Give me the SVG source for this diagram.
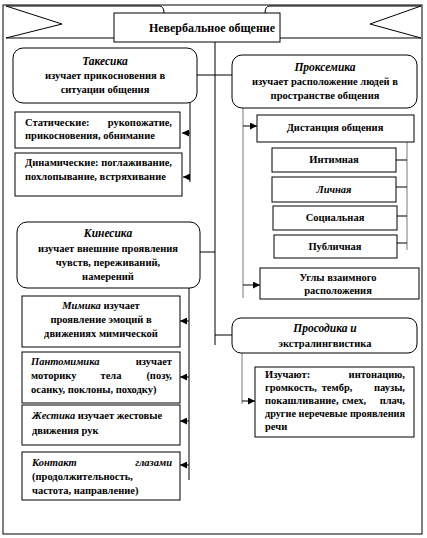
<svg xmlns="http://www.w3.org/2000/svg" width="427" height="538" viewBox="0 0 427 538" font-family="Liberation Serif, Times New Roman, serif">
<defs>
<marker id="ah" viewBox="0 0 8 8" refX="8" refY="4" markerWidth="7" markerHeight="7" markerUnits="userSpaceOnUse" orient="auto">
<path d="M0,0 L8,4 L0,8 z" fill="#000"/>
</marker>
</defs>
<style>
text{font-size:10.5px;font-weight:bold;fill:#000}
.c{text-anchor:middle}
.e{text-anchor:end}
.i{font-style:italic}
.h{font-size:11.5px;font-style:italic}
.box{fill:#fff;stroke:#000;stroke-width:1}
.rb{fill:#fff;stroke:#000;stroke-width:1}
.ln{fill:none;stroke:#000;stroke-width:1}
.gl{fill:none;stroke:#7a7a7a;stroke-width:1}
</style>
<rect x="0" y="0" width="427" height="538" fill="#fff"/>
<rect x="3" y="5" width="419" height="529" class="ln"/>

<g id="connectors">
<path class="ln" d="M215,42 V345"/>
<path class="ln" d="M197,75 H232"/>
<path class="ln" d="M200,252 H215"/>
<path class="ln" d="M215,335 H232"/>
<path class="ln" d="M190,103 V182"/>
<path class="ln" d="M190,133 H182" marker-end="url(#ah)"/>
<path class="ln" d="M190,177 H183" marker-end="url(#ah)"/>
<path class="gl" d="M243,108 V298"/>
<path class="ln" d="M243,126 H257" marker-end="url(#ah)"/>
<path class="ln" d="M243,285 H260" marker-end="url(#ah)"/>
<path class="gl" d="M407,141 V250"/>
<path class="ln" d="M396,160 H407 M396,187 H407 M397,216 H407 M397,243 H407"/>
<path class="ln" d="M189,288 V480"/>
<path class="ln" d="M189,321 H180" marker-end="url(#ah)"/>
<path class="ln" d="M189,377 H180" marker-end="url(#ah)"/>
<path class="ln" d="M189,421 H180" marker-end="url(#ah)"/>
<path class="ln" d="M189,465 H180" marker-end="url(#ah)"/>
<path class="gl" d="M242,352 V404"/>
<path class="ln" d="M242,401 H255" marker-end="url(#ah)"/>
</g>

<g id="title">
<path class="ln" d="M6,6 H159 Q164,6 164,13"/>
<path class="ln" d="M6,6 L62,24 L6,38 H115"/>
<path class="ln" d="M421,6 H270 Q265,6 265,13"/>
<path class="ln" d="M421,6 L370,24 L421,38 H280"/>
<rect class="box" x="114" y="13" width="166" height="29"/>
<text class="c" x="212" y="32" style="font-size:12px">Невербальное  общение</text>
</g>

<g id="takesika">
<rect class="rb" x="13" y="48" width="184" height="55" rx="10"/>
<text class="c h" x="105" y="65">Такесика</text>
<text class="c" x="105" y="79">изучает прикосновения в</text>
<text class="c" x="105" y="93">ситуации общения</text>
</g>

<g id="static">
<rect class="box" x="15" y="112" width="165" height="36"/>
<text x="25" y="126">Статические:</text>
<text class="e" x="172" y="126">рукопожатие,</text>
<text x="25" y="139">прикосновения, обнимание</text>
</g>

<g id="dynamic">
<rect class="box" x="15" y="153" width="167" height="43"/>
<text x="25" y="166" textLength="147" lengthAdjust="spacingAndGlyphs">Динамические: поглаживание,</text>
<text x="25" y="180">похлопывание, встряхивание</text>
</g>

<g id="proksemika">
<rect class="rb" x="232" y="55" width="185" height="53" rx="10"/>
<text class="c h" x="325" y="71">Проксемика</text>
<text class="c" x="325" y="85">изучает расположение людей в</text>
<text class="c" x="325" y="99">пространстве общения</text>
</g>

<g id="distance">
<rect class="box" x="257" y="115" width="157" height="27"/>
<text class="c" x="335" y="131">Дистанция общения</text>
</g>

<g id="intimate">
<rect class="box" x="272" y="148" width="124" height="24"/>
<text class="c" x="334" y="163">Интимная</text>
</g>
<g id="personal">
<rect class="box" x="272" y="177" width="124" height="25"/>
<text class="c i" x="334" y="193">Личная</text>
</g>
<g id="social">
<rect class="box" x="273" y="206" width="124" height="24"/>
<text class="c" x="335" y="221">Социальная</text>
</g>
<g id="public">
<rect class="box" x="274" y="235" width="123" height="23"/>
<text class="c" x="335" y="250">Публичная</text>
</g>

<g id="angles">
<rect class="box" x="260" y="268" width="159" height="31"/>
<text class="c" x="338" y="281">Углы взаимного</text>
<text class="c" x="338" y="294">расположения</text>
</g>

<g id="kinesika">
<rect class="rb" x="17" y="222" width="183" height="66" rx="10"/>
<text class="c h" x="108" y="237">Кинесика</text>
<text class="c" x="108" y="252">изучает внешние проявления</text>
<text class="c" x="108" y="266">чувств, переживаний,</text>
<text class="c" x="108" y="280">намерений</text>
</g>

<g id="mimika">
<rect class="box" x="22" y="296" width="158" height="51"/>
<text class="c" x="101" y="309"><tspan class="i">Мимика</tspan> изучает</text>
<text class="c" x="101" y="323">проявление эмоций в</text>
<text class="c" x="101" y="337">движениях мимической</text>
</g>

<g id="pantomimika">
<rect class="box" x="22" y="352" width="158" height="51"/>
<text class="i" x="31" y="365">Пантомимика</text>
<text class="e" x="172" y="365">изучает</text>
<text x="31" y="379">моторику</text>
<text class="c" x="111" y="379">тела</text>
<text class="e" x="172" y="379">(позу,</text>
<text x="31" y="393">осанку, поклоны, походку)</text>
</g>

<g id="zhestika">
<rect class="box" x="22" y="405" width="158" height="40"/>
<text x="32" y="419"><tspan class="i">Жестика</tspan> изучает жестовые</text>
<text x="32" y="434">движения рук</text>
</g>

<g id="eyes">
<rect class="box" x="22" y="452" width="158" height="48"/>
<text class="i" x="32" y="466">Контакт</text>
<text class="e i" x="172" y="466">глазами</text>
<text x="32" y="480">(продолжительность,</text>
<text x="32" y="494">частота, направление)</text>
</g>

<g id="prosodika">
<rect class="rb" x="232" y="318" width="185" height="35" rx="9"/>
<text class="c h" x="325" y="332">Просодика и</text>
<text class="c" x="325" y="347">экстралингвистика</text>
</g>

<g id="study">
<rect class="box" x="255" y="367" width="159" height="70"/>
<text x="265" y="378">Изучают:</text>
<text class="e" x="405" y="378">интонацию,</text>
<text x="265" y="391">громкость,</text>
<text class="c" x="337" y="391">тембр,</text>
<text class="e" x="405" y="391">паузы,</text>
<text x="265" y="404">покашливание,</text>
<text class="c" x="354" y="404">смех,</text>
<text class="e" x="405" y="404">плач,</text>
<text x="265" y="417" textLength="140" lengthAdjust="spacingAndGlyphs">другие неречевые проявления</text>
<text x="265" y="430">речи</text>
</g>
</svg>
